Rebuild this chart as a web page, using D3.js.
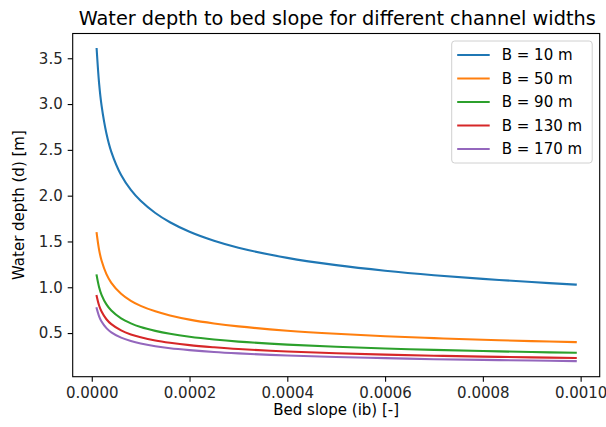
<!DOCTYPE html>
<html>
<head>
<meta charset="utf-8">
<script src="https://cdn.jsdelivr.net/npm/d3@7"></script>
<style>
  html, body { margin: 0; padding: 0; background: #fff; }
  svg { display: block; font-family: "DejaVu Sans", sans-serif; }
</style>
</head>
<body>
<svg id="chart" width="606" height="427"></svg>
<script>
// Bed slope samples (ib) [-]
const slopes = [0.00001, 0.000015, 0.00002, 0.00003, 0.00004, 0.00006, 0.00008, 0.0001,
  0.00013, 0.00016, 0.0002, 0.00025, 0.0003, 0.0004, 0.0005, 0.0006, 0.0007,
  0.0008, 0.0009, 0.00099];

// Channel widths B [m]
const widths = [10, 50, 90, 130, 170];

// Water depth d [m] for each channel width
const depthB10 = [3.600, 3.225, 2.985, 2.678, 2.478, 2.225, 2.063, 1.944, 1.811, 1.710,
  1.606, 1.508, 1.432, 1.321, 1.242, 1.181, 1.132, 1.092, 1.057, 1.029];
const depthB50 = [1.590, 1.408, 1.292, 1.144, 1.049, 0.929, 0.852, 0.797, 0.737, 0.692,
  0.647, 0.605, 0.573, 0.526, 0.492, 0.466, 0.445, 0.427, 0.412, 0.401];
const depthB90 = [1.130, 1.001, 0.918, 0.813, 0.746, 0.660, 0.606, 0.566, 0.524, 0.492,
  0.460, 0.430, 0.407, 0.374, 0.350, 0.331, 0.316, 0.304, 0.293, 0.285];
const depthB130 = [0.905, 0.801, 0.735, 0.651, 0.597, 0.529, 0.485, 0.454, 0.419, 0.394,
  0.368, 0.345, 0.326, 0.299, 0.280, 0.265, 0.253, 0.243, 0.235, 0.228];
const depthB170 = [0.770, 0.682, 0.626, 0.554, 0.508, 0.450, 0.413, 0.386, 0.357, 0.335,
  0.314, 0.293, 0.278, 0.255, 0.238, 0.226, 0.215, 0.207, 0.200, 0.194];

const xTicks = [0, 0.0002, 0.0004, 0.0006, 0.0008, 0.0010];
const yTicks = [0.5, 1.0, 1.5, 2.0, 2.5, 3.0, 3.5];

const colors = ["#1f77b4", "#ff7f0e", "#2ca02c", "#d62728", "#9467bd"];

const series = [depthB10, depthB50, depthB90, depthB130, depthB170].map((d, i) => ({
  label: `B = ${widths[i]} m`,
  color: colors[i],
  points: slopes.map((s, j) => [s, d[j]])
}));

const svg = d3.select("#chart");
const plot = { left: 72.7, right: 599.7, top: 33.5, bottom: 376.7 };

// Axis limits padded by 5% of the data span on each side
const xMin = d3.min(slopes), xMax = d3.max(slopes);
const allDepths = series.flatMap(s => s.points.map(p => p[1]));
const yMin = d3.min(allDepths), yMax = d3.max(allDepths);
const xPad = (xMax - xMin) * 0.05, yPad = (yMax - yMin) * 0.05;

const x = d3.scaleLinear().domain([xMin - xPad, xMax + xPad]).range([plot.left, plot.right]);
const y = d3.scaleLinear().domain([yMin - yPad, yMax + yPad]).range([plot.bottom, plot.top]);

const fontSize = 15;

// Curves
const line = d3.line().x(p => x(p[0])).y(p => y(p[1])).curve(d3.curveCatmullRom.alpha(0.5));
svg.append("clipPath").attr("id", "plot-clip").append("rect")
  .attr("x", plot.left).attr("y", plot.top)
  .attr("width", plot.right - plot.left).attr("height", plot.bottom - plot.top);

svg.append("g").attr("clip-path", "url(#plot-clip)")
  .selectAll("path").data(series).join("path")
  .attr("d", s => line(s.points))
  .attr("fill", "none")
  .attr("stroke", s => s.color)
  .attr("stroke-width", 2.1)
  .attr("stroke-linejoin", "round")
  .attr("stroke-linecap", "square");

// Axes
const xAxis = d3.axisBottom(x).tickValues(xTicks).tickFormat(d => d.toFixed(4))
  .tickSize(5).tickPadding(5);
const yAxis = d3.axisLeft(y).tickValues(yTicks).tickFormat(d => d.toFixed(1))
  .tickSize(5).tickPadding(5);

const gx = svg.append("g").attr("transform", `translate(0,${plot.bottom})`).call(xAxis);
const gy = svg.append("g").attr("transform", `translate(${plot.left},0)`).call(yAxis);
[gx, gy].forEach(g => {
  g.select(".domain").remove();
  g.selectAll(".tick line").attr("stroke", "#000").attr("stroke-width", 1.1);
  g.selectAll(".tick text").attr("fill", "#262626")
    .style("font-size", fontSize + "px").style("font-family", "DejaVu Sans");
});
gx.selectAll(".tick text").attr("dy", "0.76em");

// Frame
svg.append("rect")
  .attr("x", plot.left).attr("y", plot.top)
  .attr("width", plot.right - plot.left).attr("height", plot.bottom - plot.top)
  .attr("fill", "none").attr("stroke", "#000").attr("stroke-width", 1.1);

// Titles
svg.append("text")
  .attr("x", (plot.left + plot.right) / 2 + 1).attr("y", 25)
  .attr("text-anchor", "middle").attr("fill", "#000")
  .style("font-size", "19.3px")
  .text("Water depth to bed slope for different channel widths");

svg.append("text")
  .attr("x", (plot.left + plot.right) / 2).attr("y", 415)
  .attr("text-anchor", "middle").attr("fill", "#000")
  .style("font-size", fontSize + "px")
  .text("Bed slope (ib) [-]");

svg.append("text")
  .attr("transform", `translate(24,${(plot.top + plot.bottom) / 2}) rotate(-90)`)
  .attr("text-anchor", "middle").attr("fill", "#000")
  .style("font-size", fontSize + "px")
  .text("Water depth (d) [m]");

// Legend
const legend = { left: 451.7, top: 41, width: 140.5, height: 122, row: 23.5 };
const lg = svg.append("g");
lg.append("rect")
  .attr("x", legend.left).attr("y", legend.top)
  .attr("width", legend.width).attr("height", legend.height)
  .attr("rx", 3).attr("ry", 3)
  .attr("fill", "#fff").attr("fill-opacity", 0.8)
  .attr("stroke", "#d0d0d0").attr("stroke-width", 1);

const items = lg.selectAll("g.item").data(series).join("g")
  .attr("class", "item")
  .attr("transform", (s, i) => `translate(${legend.left},${legend.top + 14 + i * legend.row})`);
items.append("line")
  .attr("x1", 5.5).attr("x2", 38).attr("y1", 0).attr("y2", 0)
  .attr("stroke", s => s.color).attr("stroke-width", 2.1);
items.append("text")
  .attr("x", 50).attr("y", 0).attr("dy", "0.36em")
  .attr("fill", "#000")
  .style("font-size", fontSize + "px")
  .text(s => s.label);
</script>
</body>
</html>
